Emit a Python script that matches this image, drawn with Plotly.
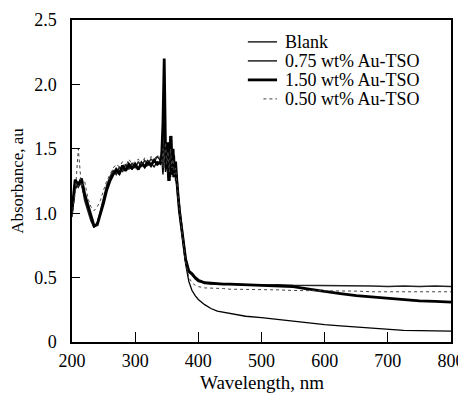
import plotly.graph_objects as go

wavelength = [200,205,210,215,220,225,230,235,240,245,250,255,260,265,270,275,280,285,290,295,
              300,305,310,315,320,325,330,335,340,
              342,344,346,348,350,352,354,356,358,360,362,364,366,368,370,
              375,380,385,390,395,400,
              410,420,430,440,450,
              475,500,525,550,575,600,625,650,675,700,725,750,775,800]

blank = [1.00,1.18,1.24,1.22,1.12,1.05,0.96,0.90,0.92,1.00,1.10,1.20,1.27,1.30,1.32,1.30,1.35,1.33,1.36,1.34,
         1.37,1.35,1.38,1.36,1.37,1.39,1.36,1.40,1.38,
         1.42,1.30,1.45,1.32,1.40,1.25,1.45,1.30,1.42,1.28,1.35,1.30,1.22,1.10,1.00,
         0.80,0.60,0.47,0.40,0.36,0.33,
         0.29,0.26,0.24,0.23,0.22,
         0.20,0.19,0.175,0.16,0.15,0.135,0.125,0.115,0.105,0.095,0.09,0.088,0.086,0.085]

au_075 = [0.97,1.22,1.20,1.25,1.10,1.02,0.94,0.89,0.93,1.02,1.12,1.22,1.28,1.33,1.30,1.36,1.32,1.38,1.34,1.39,
          1.35,1.40,1.36,1.41,1.38,1.42,1.40,1.44,1.41,
          1.48,1.35,1.60,1.38,1.50,1.30,1.55,1.28,1.60,1.30,1.45,1.25,1.30,1.15,1.05,
          0.85,0.65,0.54,0.52,0.49,0.47,
          0.46,0.45,0.45,0.45,0.45,
          0.445,0.44,0.445,0.44,0.44,0.44,0.44,0.435,0.435,0.43,0.435,0.43,0.435,0.43]

au_150 = [1.02,1.26,1.22,1.27,1.15,1.06,0.97,0.90,0.91,0.99,1.08,1.18,1.25,1.30,1.34,1.31,1.37,1.33,1.38,1.35,
          1.38,1.34,1.39,1.36,1.40,1.37,1.41,1.38,1.40,
          1.45,1.70,2.20,1.50,1.35,1.55,1.25,1.60,1.30,1.50,1.28,1.40,1.25,1.12,1.02,
          0.83,0.64,0.55,0.53,0.50,0.48,
          0.46,0.455,0.45,0.45,0.45,
          0.445,0.44,0.44,0.43,0.41,0.39,0.375,0.36,0.35,0.335,0.33,0.32,0.315,0.31]

au_050 = [0.98,1.15,1.50,1.20,1.25,1.12,1.05,1.02,1.05,1.10,1.18,1.25,1.30,1.35,1.38,1.36,1.40,1.36,1.42,1.38,
          1.40,1.42,1.38,1.43,1.40,1.44,1.42,1.45,1.43,
          1.40,1.50,1.35,1.55,1.38,1.48,1.32,1.50,1.35,1.42,1.30,1.35,1.22,1.12,1.03,
          0.82,0.62,0.50,0.46,0.44,0.43,
          0.42,0.42,0.415,0.415,0.41,
          0.41,0.41,0.405,0.40,0.40,0.40,0.40,0.395,0.39,0.39,0.39,0.39,0.39,0.39]

series_names = ["Blank", "0.75 wt% Au-TSO", "1.50 wt% Au-TSO", "0.50 wt% Au-TSO"]
series_values = [blank, au_075, au_150, au_050]

x_ticks = [200, 300, 400, 500, 600, 700, 800]
y_ticks = [0, 0.5, 1.0, 1.5, 2.0, 2.5]
y_tick_labels = ["0", "0.5", "1.0", "1.5", "2.0", "2.5"]

x_title = "Wavelength, nm"
y_title = "Absorbance, au"

FONT = "Liberation Serif"

styles = [
    dict(color="black", width=1.3),
    dict(color="#222222", width=1.5),
    dict(color="black", width=2.8),
    dict(color="#444444", width=1, dash="dot"),
]

fig = go.Figure()
for name, vals, st in zip(series_names, series_values, styles):
    fig.add_trace(go.Scatter(x=wavelength, y=vals, mode="lines", name=name,
                             line=st, showlegend=False))

# Legend drawn inside plot (paper coordinates)
legend_y = [0.932, 0.873, 0.814, 0.755]
legend_x0 = [0.464, 0.464, 0.464, 0.505]
for name, st, ly, lx0 in zip(series_names, styles, legend_y, legend_x0):
    fig.add_shape(type="line", xref="paper", yref="paper", x0=lx0, x1=0.541, y0=ly, y1=ly,
                  line=st)
    fig.add_annotation(xref="paper", yref="paper", x=0.558, y=ly, text=name,
                       showarrow=False, xanchor="left", yanchor="middle",
                       font=dict(family=FONT, size=18, color="black"))

# x-axis title placed as annotation for exact vertical position
fig.add_annotation(xref="paper", yref="paper", x=0.5, y=-0.126, text=x_title,
                   showarrow=False, xanchor="center", yanchor="middle",
                   font=dict(family=FONT, size=19, color="black"))

# page body adds an 8px offset; compensate so the plot box lands at x 72-451, y 20-342
fig.update_layout(
    width=458, height=386,
    margin=dict(l=64, r=15, t=12, b=52),
    paper_bgcolor="white", plot_bgcolor="white",
    font=dict(family=FONT, size=17, color="black"),
    showlegend=False,
)
fig.update_xaxes(range=[200, 800], tickvals=x_ticks, ticks="inside", ticklen=10,
                 tickcolor="black", showline=True, linecolor="black", linewidth=1.5,
                 mirror=True, showgrid=False, zeroline=False, automargin=False,
                 tickfont=dict(family=FONT, size=18, color="black"), ticklabelstandoff=2)
fig.update_yaxes(range=[0, 2.5], tickvals=y_ticks, ticktext=y_tick_labels, ticks="inside",
                 ticklen=8, tickcolor="black", showline=True, linecolor="black", linewidth=1.5,
                 mirror=True, showgrid=False, zeroline=False, automargin=False,
                 tickfont=dict(family=FONT, size=18, color="black"), ticklabelstandoff=10,
                 title=dict(text=y_title, font=dict(family=FONT, size=17, color="black"), standoff=10))

fig.write_html("out.html")
